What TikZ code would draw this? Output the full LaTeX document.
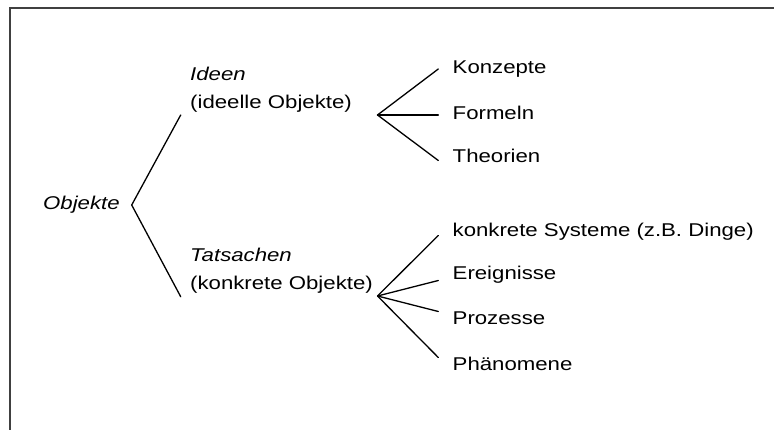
\documentclass[tikz,border=0pt]{standalone}
\usepackage{fontspec}
\setmainfont[FakeStretch=1.2]{Liberation Sans}
\begin{document}
\begin{tikzpicture}[x=1pt,y=-1pt,
  lbl/.style={anchor=base west, inner sep=0pt, font=\fontsize{18.5}{27.5}\selectfont},
  lbl2/.style={anchor=base west, inner sep=0pt, align=left, font=\fontsize{18.5}{27.5}\selectfont},
  conn/.style={draw=black, line width=1.3pt, line cap=round, line join=round},
  framel/.style={draw=black!75, line width=2pt}]
\useasboundingbox (0,0) rectangle (774,430);
\fill[white] (0,0) rectangle (774,430);
\draw[framel] (9.5,432) -- (9.5,8.5) -- (776,8.5);

% texts
\node[lbl] (obj) at (43,210) {\itshape Objekte};
\node[lbl2] (ideen) at (190,108.5) {\textit{Ideen}\\(ideelle Objekte)};
\node[lbl2] (tats) at (190,289.5) {\textit{Tatsachen}\\(konkrete Objekte)};
\node[lbl] (konz) at (452.5,74) {Konzepte};
\node[lbl] (form) at (452.5,120) {Formeln};
\node[lbl] (theo) at (452.5,163) {Theorien};
\node[lbl] (sys) at (452.5,236.5) {konkrete Systeme (z.B. Dinge)};
\node[lbl] (ereig) at (452.5,279.5) {Ereignisse};
\node[lbl] (proz) at (452.5,324.5) {Prozesse};
\node[lbl] (phaen) at (452.5,370.5) {Phänomene};

% connector points
\coordinate (v0) at (131.7,205);
\coordinate (a1) at (180.7,115);
\coordinate (a2) at (180.7,296.7);
\coordinate (v1) at (377.5,115);
\coordinate (b1) at (438.3,69);
\coordinate (b2) at (438.3,115);
\coordinate (b3) at (438.3,160.5);
\coordinate (v2) at (377.5,296);
\coordinate (c1) at (438.3,235.5);
\coordinate (c2) at (438.3,280.5);
\coordinate (c3) at (438.3,311.5);
\coordinate (c4) at (438.3,357.5);

\draw[conn] (a1) -- (v0) -- (a2);
\draw[conn] (b1) -- (v1) -- (b3);
\draw[conn] (v1) -- (b2);
\draw[conn] (c1) -- (v2) -- (c4);
\draw[conn] (c2) -- (v2) -- (c3);
\end{tikzpicture}
\end{document}
